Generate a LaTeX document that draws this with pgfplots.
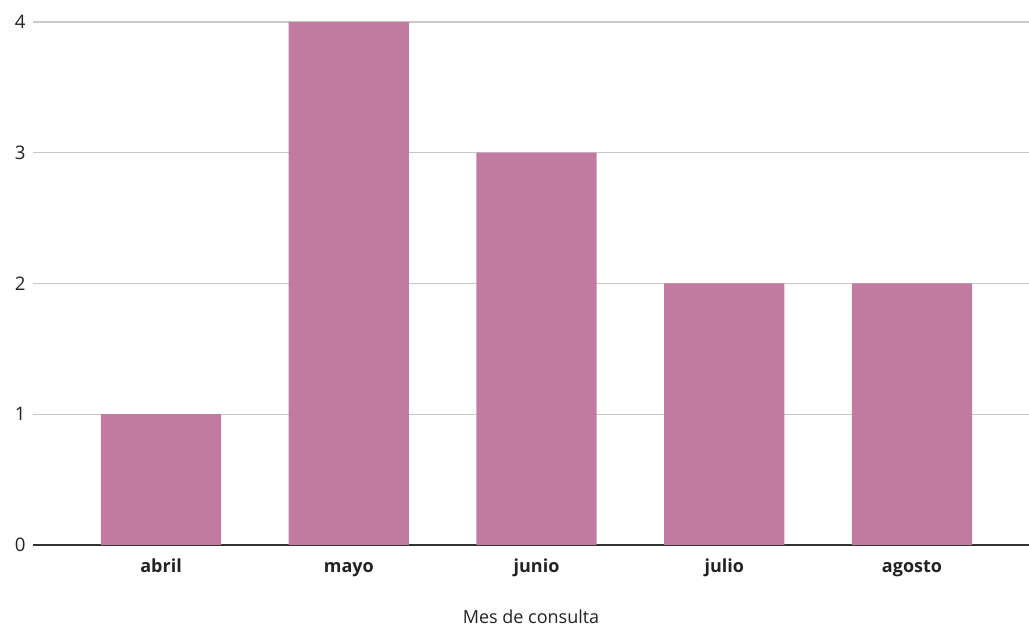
\documentclass[border=0pt]{standalone}
\usepackage{fontspec}
\setmainfont{Open Sans}
\usepackage{pgfplots}
\pgfplotsset{compat=1.18}
\definecolor{barc}{HTML}{C27BA0}
\definecolor{gridc}{HTML}{C8C8C8}
\definecolor{axc}{HTML}{333333}
\definecolor{txtc}{HTML}{222222}
\begin{document}
\begin{tikzpicture}
\begin{axis}[
  at={(0,0)}, anchor=south west,
  scale only axis,
  width=747pt, height=392.25pt,
  xmin=-0.682, xmax=4.623,
  ymin=0, ymax=4,
  ytick={0,1,2,3,4},
  xtick={0,1,2,3,4},
  xticklabels={abril,mayo,junio,julio,agosto},
  xticklabel style={font=\fontsize{13.5}{16}\selectfont\bfseries, text height=10pt, text depth=3pt, yshift=-7pt, text=txtc},
  yticklabel style={font=\fontsize{14}{16}\selectfont, xshift=-2pt, text=txtc},
  /pgf/number format/assume math mode=true,
  axis x line=bottom, axis y line=left,
  y axis line style={draw=none},
  x axis line style={-, draw=axc, line width=1.1pt},
  major tick length=0pt,
  ymajorgrids, grid style={gridc, line width=0.9pt},
  xlabel={Mes de consulta},
  xlabel style={font=\fontsize{13.5}{16}\selectfont, yshift=-18.5pt, text=txtc},
  clip=false,
]
\addplot[ybar, bar width=0.64, fill=barc, draw=none] coordinates {(0,1) (1,4) (2,3) (3,2) (4,2)};
\end{axis}
\pgfresetboundingbox
\useasboundingbox (-24.75pt,-63.75pt) rectangle (747pt,408.75pt);
\end{tikzpicture}
\end{document}
